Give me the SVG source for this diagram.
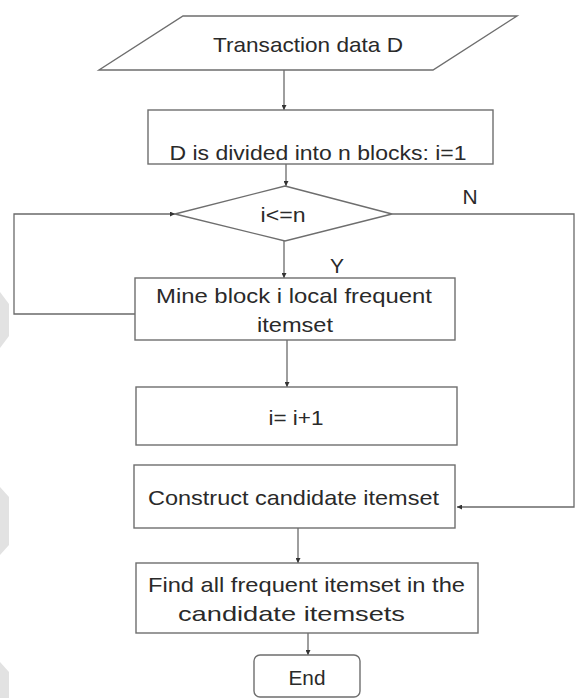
<svg xmlns="http://www.w3.org/2000/svg" width="575" height="698" viewBox="0 0 575 698">
<style>
.shape{fill:#fff;stroke:#6e6e6e;stroke-width:1.4}
.wm{fill:#e2e2e2;stroke:none}
.t{font-family:"Liberation Sans",Arial,sans-serif;font-size:21px;fill:#2a2a2a;text-anchor:middle}
.c{fill:none;stroke:#6a6a6a;stroke-width:1.3}
</style>
<defs>
<marker id="ah" viewBox="0 0 10 10" refX="10" refY="5" markerWidth="5" markerHeight="5" orient="auto" markerUnits="userSpaceOnUse">
<path d="M0,0 L10,5 L0,10 z" fill="#333"/>
</marker>
</defs>
<rect width="575" height="698" fill="#fff"/>
<g id="watermark">
<polygon class="wm" points="0,292 9,304 9,336 0,348"/>
<polygon class="wm" points="0,487 9,497 9,545 0,555"/>
<polygon class="wm" points="0,662 9,672 9,698 0,698"/>
</g>
<g id="connectors">
<line class="c" x1="284" y1="70" x2="284" y2="110" marker-end="url(#ah)"/>
<line class="c" x1="286" y1="164" x2="286" y2="186" marker-end="url(#ah)"/>
<line class="c" x1="284" y1="241" x2="284" y2="278" marker-end="url(#ah)"/>
<line class="c" x1="287" y1="340" x2="287" y2="387" marker-end="url(#ah)"/>
<polyline class="c" points="135,314 14,314 14,214 175,214" marker-end="url(#ah)"/>
<polyline class="c" points="392,214 574,214 574,507 457,507" marker-end="url(#ah)"/>
<line class="c" x1="298" y1="528" x2="298" y2="563" marker-end="url(#ah)"/>
<line class="c" x1="308" y1="633" x2="308" y2="655" marker-end="url(#ah)"/>
<text class="t" x="470" y="204">N</text>
<text class="t" x="337" y="273">Y</text>
</g>
<g id="start">
<polygon class="shape" points="183,16 517,16 433,70 99,70"/>
<text class="t" x="308" y="52" textLength="190" lengthAdjust="spacingAndGlyphs">Transaction data D</text>
</g>
<g id="divide">
<rect class="shape" x="148" y="110" width="345" height="54"/>
<text class="t" x="318" y="160" textLength="297" lengthAdjust="spacingAndGlyphs">D is divided into n blocks: i=1</text>
</g>
<g id="decision">
<polygon class="shape" points="285,186 392,214 285,241 175,214"/>
<text class="t" x="283" y="222" textLength="45" lengthAdjust="spacingAndGlyphs">i&lt;=n</text>
</g>
<g id="mine">
<rect class="shape" x="135" y="278" width="320" height="62"/>
<text class="t" x="294" y="303" textLength="276" lengthAdjust="spacingAndGlyphs">Mine block i local frequent</text>
<text class="t" x="295" y="332" textLength="76" lengthAdjust="spacingAndGlyphs">itemset</text>
</g>
<g id="increment">
<rect class="shape" x="136" y="387" width="321" height="58"/>
<text class="t" x="296" y="425" textLength="55" lengthAdjust="spacingAndGlyphs">i= i+1</text>
</g>
<g id="construct">
<rect class="shape" x="134" y="465" width="321" height="63"/>
<text class="t" x="293.5" y="505" textLength="291" lengthAdjust="spacingAndGlyphs">Construct candidate itemset</text>
</g>
<g id="find">
<rect class="shape" x="136" y="563" width="342" height="70"/>
<text class="t" x="306.5" y="592" textLength="317" lengthAdjust="spacingAndGlyphs">Find all frequent itemset in the</text>
<text class="t" x="291.5" y="621" textLength="227" lengthAdjust="spacingAndGlyphs">candidate itemsets</text>
</g>
<g id="end">
<rect class="shape" x="254" y="655" width="106" height="42" rx="6"/>
<text class="t" x="307" y="685" textLength="37" lengthAdjust="spacingAndGlyphs">End</text>
</g>
</svg>
